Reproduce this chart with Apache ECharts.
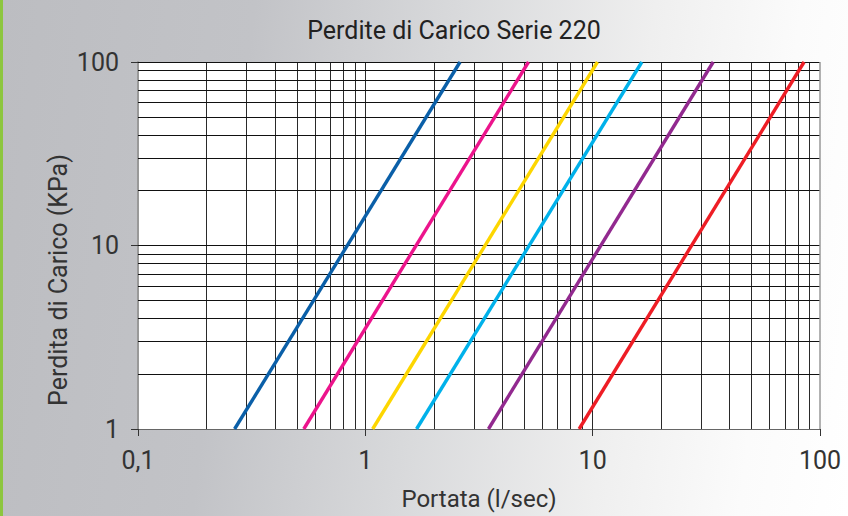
<!DOCTYPE html>
<html><head><meta charset="utf-8">
<script src="https://cdn.jsdelivr.net/npm/echarts@6/dist/echarts.min.js"></script>
<style>
html,body{margin:0;padding:0;}
#wrap{position:absolute;left:0;top:0;width:848px;height:516px;background:linear-gradient(97deg,#bcbdc1 0%,#c2c3c7 28%,#d8d9db 50%,#efefef 72%,#fbfbfb 88%,#ffffff 100%);}
#bar{position:absolute;left:0;top:0;width:3px;height:516px;background:#8dc63f;}
#chart{position:absolute;left:0;top:0;width:848px;height:516px;}
</style></head><body>
<div id="wrap"></div><div id="bar"></div><div id="chart"></div>
<script>
// ---- data ----
const titleText = 'Perdite di Carico Serie 220';
const xName = 'Portata (l/sec)';
const yName = 'Perdita di Carico (KPa)';
const xTickLabels = ['0,1', '1', '10', '100'];
const yTickLabels = ['1', '10', '100'];
const pressureEnds = [1, 100];          // KPa
const flowBlue    = [0.266, 2.61];      // l/sec at 1 and 100 KPa
const flowMagenta = [0.536, 5.22];
const flowYellow  = [1.077, 10.5];
const flowCyan    = [1.68, 16.46];
const flowPurple  = [3.48, 33.9];
const flowRed     = [8.72, 85.1];
const xGridValues = [0.2,0.3,0.4,0.5,0.6,0.7,0.8,0.9,1,2,3,4,5,6,7,8,9,10,20,30,40,50,60,70,80,90];
const yGridValues = [2,3,4,5,6,7,8,9,10,20,30,40,50,60,70,80,90];

const seriesDefs = [
  {name: 'A', flow: flowBlue,    color: '#0a5fa8'},
  {name: 'B', flow: flowMagenta, color: '#ec148c'},
  {name: 'C', flow: flowYellow,  color: '#fdd600'},
  {name: 'D', flow: flowCyan,    color: '#00b1ea'},
  {name: 'E', flow: flowPurple,  color: '#92298f'},
  {name: 'F', flow: flowRed,     color: '#ee1d25'}
];

const chart = echarts.init(document.getElementById('chart'), null, {renderer: 'svg'});
const FONT = 'Roboto, "Open Sans", sans-serif';
const decadeIndex = (v, base) => Math.round(Math.log10(v) - Math.log10(base));

const series = [
  {
    type: 'line', data: [], silent: true, z: 1,
    markLine: {
      silent: true, symbol: ['none', 'none'], animation: false,
      label: {show: false},
      lineStyle: {color: '#2a2a2a', width: 1, type: 'solid'},
      emphasis: {disabled: true},
      data: xGridValues.map(v => ({xAxis: v}))
    }
  },
  {
    type: 'line', data: [], silent: true, z: 1,
    markLine: {
      silent: true, symbol: ['none', 'none'], animation: false,
      label: {show: false},
      lineStyle: {color: '#111', width: 1, type: 'solid'},
      emphasis: {disabled: true},
      data: yGridValues.map(v => ({yAxis: v})).concat([{yAxis: 100, lineStyle: {color: '#111'}}, {xAxis: 100, lineStyle: {color: '#999', width: 1.5}}])
    }
  }
].concat(seriesDefs.map(s => ({
  name: s.name, type: 'line', z: 5,
  data: s.flow.map((f, i) => [f, pressureEnds[i]]),
  symbol: 'none', showSymbol: false, clip: true, animation: false,
  lineStyle: {color: s.color, width: 3.4},
  itemStyle: {color: s.color}
})));

chart.setOption({
  animation: false,
  grid: {left: 138, right: 28, top: 62, bottom: 86, show: true, backgroundColor: '#ffffff', borderWidth: 0},
  xAxis: {
    type: 'log', logBase: 10, min: 0.1, max: 100,
    axisLine: {show: true, lineStyle: {color: '#666', width: 1}},
    axisTick: {show: true, length: 7, lineStyle: {color: '#333', width: 1}},
    axisLabel: {fontSize: 25, color: '#333', fontFamily: FONT, margin: 19,
      formatter: v => xTickLabels[decadeIndex(v, 0.1)]},
    splitLine: {show: false}, minorTick: {show: false},
    name: xName, nameLocation: 'middle', nameGap: 58,
    nameTextStyle: {fontSize: 24, color: '#333', fontFamily: FONT}
  },
  yAxis: {
    type: 'log', logBase: 10, min: 1, max: 100,
    axisLine: {show: true, lineStyle: {color: '#999', width: 2}},
    axisTick: {show: true, length: 7, lineStyle: {color: '#333', width: 1}},
    axisLabel: {fontSize: 25, color: '#333', fontFamily: FONT, margin: 19,
      formatter: v => yTickLabels[decadeIndex(v, 1)]},
    splitLine: {show: false}, minorTick: {show: false}
  },
  graphic: [
    {type: 'text', x: 454, y: 30, silent: true,
      style: {text: titleText, fill: '#222', font: '25px ' + FONT, textAlign: 'center', textVerticalAlign: 'middle', align: 'center', verticalAlign: 'middle'}},
    {type: 'text', x: 58, y: 280, rotation: Math.PI / 2, silent: true,
      style: {text: yName, fill: '#333', font: '25px ' + FONT, textAlign: 'center', textVerticalAlign: 'middle', align: 'center', verticalAlign: 'middle'}}
  ],
  series: series
});
</script>
</body></html>
